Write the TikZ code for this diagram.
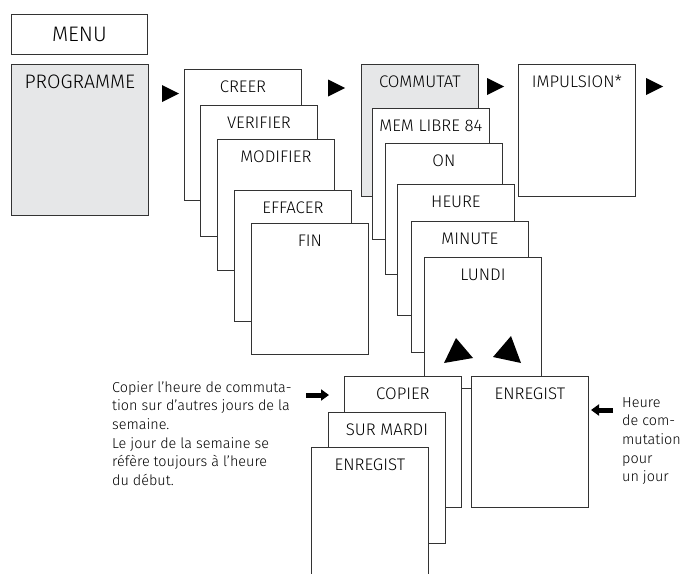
\documentclass[tikz,border=0pt]{standalone}
\usepackage{fontspec}
\setmainfont{Fira Sans}[UprightFont=* Light]
\usetikzlibrary{arrows.meta}
\definecolor{menugray}{HTML}{E6E7E8}
\definecolor{framegray}{HTML}{333333}

\begin{document}
\begin{tikzpicture}[x=1pt,y=-1pt,
            frame/.style={draw=framegray,line width=0.8pt,fill=white,anchor=north west,inner xsep=0pt},
            menubox/.style={frame,minimum width=117pt,inner ysep=11.1pt,text height=11.6pt,text depth=97.2pt,font=\fontsize{16.8}{20}\selectfont},
            graybox/.style={menubox,fill=menugray},
            blockarrow/.style={line width=5pt,-{Triangle[length=8pt,width=11pt]}},
            note/.style={anchor=north west,inner sep=0pt,align=left,font=\fontsize{14.4}{18.7}\selectfont}]
            \useasboundingbox (0,0) rectangle (682,573);
            \clip (0,0) rectangle (682,573);

            \node[frame,minimum width=136pt,minimum height=40pt,font=\fontsize{21}{25}\selectfont] (menu) at (11,14) {MENU};
            \node[frame,fill=menugray,minimum width=137pt,inner ysep=10.6pt,text height=13.4pt,text depth=116.4pt,font=\fontsize{19.5}{23}\selectfont] (prog) at (11,64) {PROGRAMME};

            \node[menubox] (creer) at (184,69) {CREER};
            \node[menubox] (verif) at (200,105) {VERIFIER};
            \node[menubox] (modif) at (217,139) {MODIFIER};
            \node[menubox] (effac) at (234,190) {EFFACER};
            \node[menubox] (fin) at (251,223) {FIN};

            \node[graybox,text depth=98.2pt] (commut) at (361,64) {COMMUTAT};
            \node[menubox,text depth=98.2pt] (impuls) at (518,64) {IMPULSION*};
            \node[menubox] (memlib) at (372,108) {MEM LIBRE 84};
            \node[menubox] (on) at (385,143) {ON};
            \node[menubox] (heure) at (397,184) {HEURE};
            \node[menubox] (minute) at (411,221) {MINUTE};
            \node[menubox] (lundi) at (424,257) {LUNDI};

            \node[menubox] (copier) at (344,376) {COPIER};
            \node[menubox] (enregA) at (471,376) {ENREGIST};
            \node[menubox] (surmardi) at (328,412) {SUR MARDI};
            \node[menubox] (enregB) at (311,447) {ENREGIST};

            \foreach \x/\y in {162/93.5,328/88,487/86.5,646/86.5}
               \fill (\x,\y-8.5) -- (\x+17,\y) -- (\x,\y+8.5) -- cycle;
            \fill (456,338) -- (444,363) -- (473,358) -- cycle;
            \fill (511,336) -- (493,357) -- (521,363) -- cycle;

            \node[note] (copytxt) at (112,381) {Copier l’heure de commuta-\\tion sur d’autres jours de la\\semaine.\\Le jour de la semaine se\\réfère toujours à l’heure\\du début.};
            \node[note] (daytxt) at (622,397) {Heure\\de com-\\mutation\\pour\\un jour};

            \coordinate (cpfrom) at (306,395);
            \coordinate (cpto) at (329,395);
            \coordinate (hrfrom) at (613,410);
            \coordinate (hrto) at (591,410);
            \draw[blockarrow] (cpfrom) -- (cpto);
            \draw[blockarrow] (hrfrom) -- (hrto);
          \end{tikzpicture}
\end{document}
